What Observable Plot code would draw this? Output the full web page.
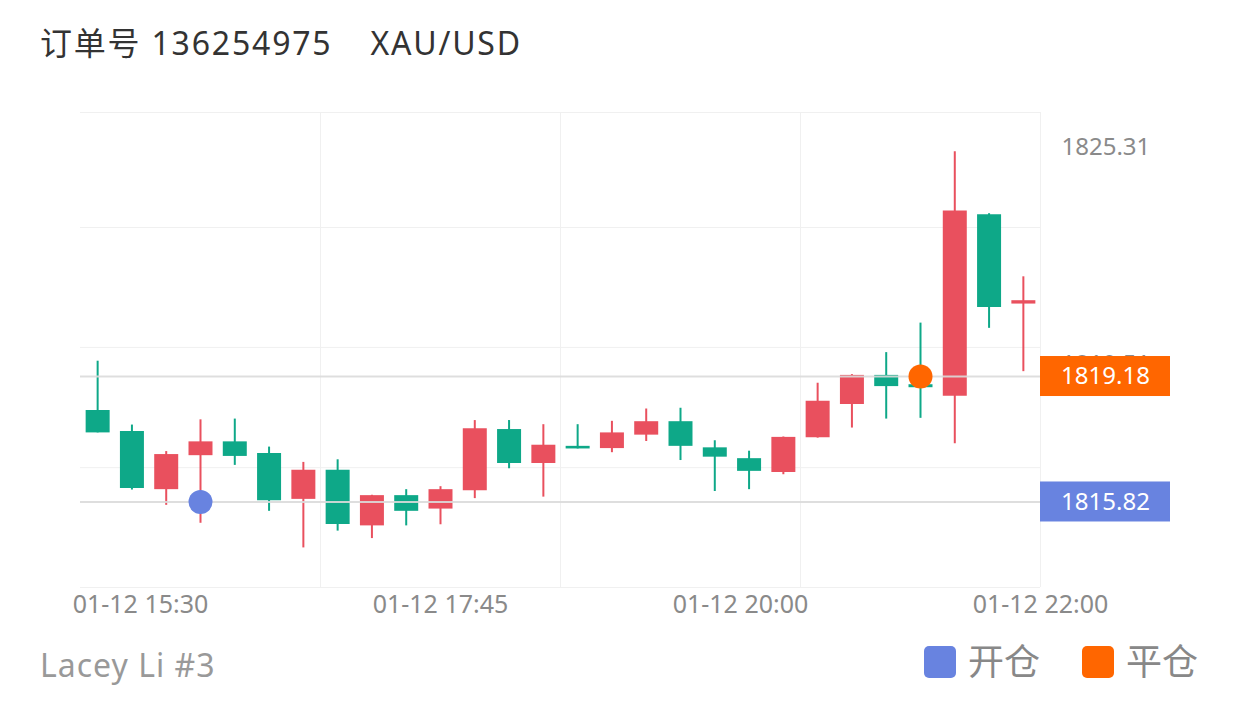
<!DOCTYPE html>
<html><head><meta charset="utf-8">
<script src="https://cdn.jsdelivr.net/npm/d3@7"></script>
<script src="https://cdn.jsdelivr.net/npm/@observablehq/plot@0.6"></script>
<style>
body{margin:0;background:#fff;font-family:"Noto Sans","Noto Sans CJK SC",sans-serif;}
#wrap{position:relative;width:1240px;height:704px;overflow:hidden;}
#title{position:absolute;left:40px;top:21px;font-size:32px;letter-spacing:1.8px;color:#333;line-height:44px;white-space:nowrap;}
#title .sym{margin-left:38px;}
#chart{position:absolute;left:0;top:90px;}
#caption{position:absolute;left:40px;top:643px;font-size:32px;letter-spacing:1px;color:#999;line-height:44px;}
#legend{position:absolute;left:924px;top:640px;display:flex;align-items:center;font-size:36px;color:#888;line-height:44px;}
.sw{width:32px;height:32px;border-radius:5px;margin-right:12px;}
.item{display:flex;align-items:center;margin-right:42px;}
</style></head>
<body>
<div id="wrap">
  <div id="title"></div>
  <div id="chart"></div>
  <div id="caption"></div>
  <div id="legend"></div>
</div>
<script>
// ---- data ----
const orderNo = "136254975";
const symbol = "XAU/USD";
const author = "Lacey Li #3";
const opens  = [1818.27,1817.71,1816.15,1817.06,1817.43,1817.12,1815.89,1816.67,1815.18,1815.99,1815.63,1816.12,1817.76,1816.85,1817.31,1817.25,1817.61,1817.97,1817.27,1816.98,1816.61,1817.54,1818.43,1819.21,1818.96,1818.65,1823.51,1821.12];
const closes = [1817.67,1816.18,1817.09,1817.43,1817.04,1815.85,1816.67,1815.22,1815.99,1815.57,1816.15,1817.78,1816.85,1817.34,1817.24,1817.67,1817.97,1817.31,1817.02,1816.64,1817.55,1818.52,1819.21,1818.91,1818.88,1823.61,1821.03,1821.21];
const highs  = [1819.59,1817.88,1817.17,1818.02,1818.04,1817.29,1816.88,1816.95,1816.00,1816.15,1816.23,1818.00,1818.00,1817.89,1817.89,1817.98,1818.31,1818.33,1817.46,1817.18,1817.56,1819.00,1819.23,1819.82,1820.61,1825.20,1823.54,1821.85];
const lows   = [1817.67,1816.14,1815.73,1815.25,1816.80,1815.57,1814.59,1815.04,1814.84,1815.18,1815.21,1815.91,1816.71,1815.95,1817.24,1817.14,1817.44,1816.93,1816.10,1816.15,1816.55,1817.53,1817.80,1818.04,1818.06,1817.38,1820.47,1819.31];
const xTickLabels = ["01-12 15:30","01-12 17:45","01-12 20:00","01-12 22:00"];
const xTickAt = [1.25, 10, 18.75, 27.5];          // candle-index units
const xGrid = [6.5, 13.5, 20.5, 27.5];
const yGrid = [1813.53, 1816.74, 1819.96, 1823.17, 1826.25];
const yLabelValues = [1825.31, 1819.51];
const tradeNames = ["开仓","平仓"];
const tradeIndex = [3, 24];
const tradePrices = [1815.82, 1819.18];
const tradeColors = ["#6883e0","#ff6600"];
const upColor = "#e9505e", downColor = "#0ea888";

// ---- build tables ----
const candles = opens.map((o,i)=>({i, open:o, close:closes[i], high:highs[i], low:lows[i],
  color: closes[i] >= o ? upColor : downColor}));
const trades = tradeNames.map((n,k)=>({name:n, i:tradeIndex[k], price:tradePrices[k], color:tradeColors[k]}));

document.getElementById("title").innerHTML = `订单号 ${orderNo}<span class="sym">${symbol}</span>`;
document.getElementById("caption").textContent = author;
document.getElementById("legend").innerHTML = trades.map(t=>
  `<div class="item"><div class="sw" style="background:${t.color}"></div><span>${t.name}</span></div>`).join("");

const chart = Plot.plot({
  width: 1240, height: 540,
  marginTop: 22, marginBottom: 43, marginLeft: 80, marginRight: 200,
  x: {type: "linear", domain: [-0.5, 27.5], axis: null},
  y: {domain: [1813.53, 1826.25], axis: null},
  style: {fontFamily: '"Noto Sans","Noto Sans CJK SC",sans-serif', background: "transparent", overflow: "visible"},
  marks: [
    Plot.ruleY(yGrid, {stroke: "#f0f0f0", strokeWidth: 1}),
    Plot.ruleX(xGrid, {stroke: "#f0f0f0", strokeWidth: 1}),
    Plot.axisX({ticks: xTickAt, tickFormat: d => xTickLabels[xTickAt.indexOf(d)], tickSize: 0, tickPadding: 8, fontSize: 25, color: "#8a8a8a", label: null}),
    Plot.axisY({anchor: "right", ticks: yLabelValues, tickFormat: d => d.toFixed(2), tickSize: 0, tickPadding: 21, fontSize: 24, color: "#8a8a8a", label: null}),
    Plot.ruleX(candles, {x: "i", y1: "low", y2: "high", stroke: "color", strokeWidth: 2}),
    Plot.ruleX(candles, {x: "i", y1: "open", y2: "close", stroke: "color", strokeWidth: 24}),
    Plot.ruleY(trades, {y: "price", stroke: "#dadada", strokeOpacity: 0.9, strokeWidth: 2}),
    Plot.dot(trades, {x: "i", y: "price", r: 12, fill: "color"}),
    Plot.rect(trades, {x1: 27.5, x2: 27.5, y1: "price", y2: "price", insetRight: -130, insetTop: -20, insetBottom: -20, fill: "color"}),
    Plot.text(trades, {x: 27.5, y: "price", dx: 65, text: d => d.price.toFixed(2), fill: "white", fontSize: 24})
  ]
});
document.getElementById("chart").appendChild(chart);
</script>
</body></html>
